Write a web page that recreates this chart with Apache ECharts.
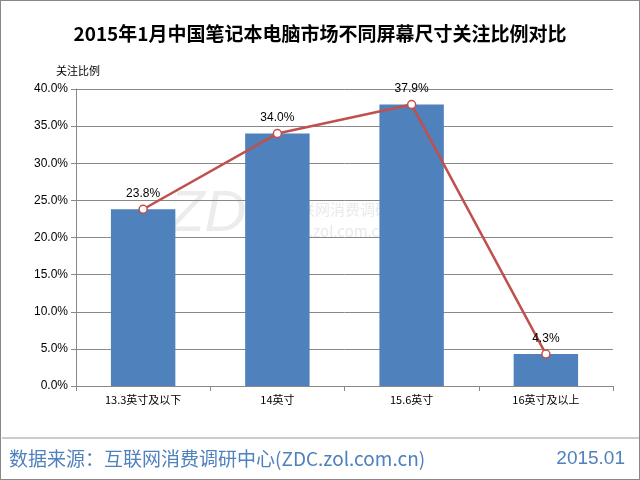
<!DOCTYPE html>
<html><head><meta charset="utf-8">
<script src="https://cdn.jsdelivr.net/npm/echarts@6/dist/echarts.min.js"></script>
<style>body{margin:0;background:#fff}#c{width:640px;height:480px;box-sizing:border-box;border:1px solid #888}</style>
</head><body><div id="c"></div>
<script>
// 데이터
const categories = ["13.3英寸及以下", "14英寸", "15.6英寸", "16英寸及以上"];
const shares = [23.8, 34.0, 37.9, 4.3];

let myChart = echarts.init(document.getElementById("c"));
let option = {
  animation: false,
  title: {
    text: "2015年1月中国笔记本电脑市场不同屏幕尺寸关注比例对比",
    left: "center", top: 18,
    textStyle: { fontSize: 19, fontWeight: "bold", color: "#000", fontFamily: "Noto Sans CJK SC" },
  },
  graphic: [
    { type: "text", left: 55, top: 64, style: { text: "关注比例", fontSize: 11, fill: "#000", fontFamily: "Noto Sans CJK SC" } },
    { type: "text", left: 168, top: 185, style: { text: "ZDC", fontSize: 58, fontStyle: "italic", fill: "rgba(200,200,200,0.35)" } },
    { type: "text", left: 284, top: 197, style: { text: "互联网消费调研中心\nzdc.zol.com.cn", fontSize: 15, lineHeight: 22, fill: "rgba(200,200,200,0.4)", fontFamily: "Noto Sans CJK SC" } },
    { type: "line", shape: { x1: 1, y1: 437, x2: 639, y2: 437 }, style: { stroke: "#999", lineWidth: 1 } },
    { type: "text", left: 8, top: 448, style: { text: "数据来源：互联网消费调研中心(ZDC.zol.com.cn)", fontSize: 19, fill: "#4f81bd", fontFamily: "Noto Sans CJK SC" } },
    { type: "text", right: 14, top: 448, style: { text: "2015.01", fontSize: 19, fill: "#4f81bd" } },
  ],
  grid: { left: 75, right: 26, top: 88, bottom: 93 },
  xAxis: {
    type: "category", data: categories,
    axisTick: { show: true, alignWithLabel: false },
    axisLine: { lineStyle: { color: "#888" } },
    axisLabel: { color: "#000", fontSize: 11, fontFamily: "Noto Sans CJK SC" },
  },
  yAxis: {
    type: "value", min: 0, max: 40, interval: 5,
    axisLine: { show: true, lineStyle: { color: "#888" } },
    axisTick: { show: true },
    splitLine: { lineStyle: { color: "#888" } },
    axisLabel: { formatter: (v) => v.toFixed(1) + "%", color: "#000", fontSize: 12 },
  },
  series: [
    {
      type: "bar", data: shares, barWidth: "48%",
      itemStyle: { color: "#4f81bd" },
    },
    {
      type: "line", data: shares,
      symbol: "circle", symbolSize: 8,
      lineStyle: { color: "#c0504d", width: 2.5 },
      itemStyle: { color: "#fff", borderColor: "#c0504d", borderWidth: 1.5 },
      label: { show: true, position: "top", formatter: (p) => p.value.toFixed(1) + "%", color: "#000", fontSize: 12 },
    },
  ],
};
myChart.setOption(option);
</script></body></html>
